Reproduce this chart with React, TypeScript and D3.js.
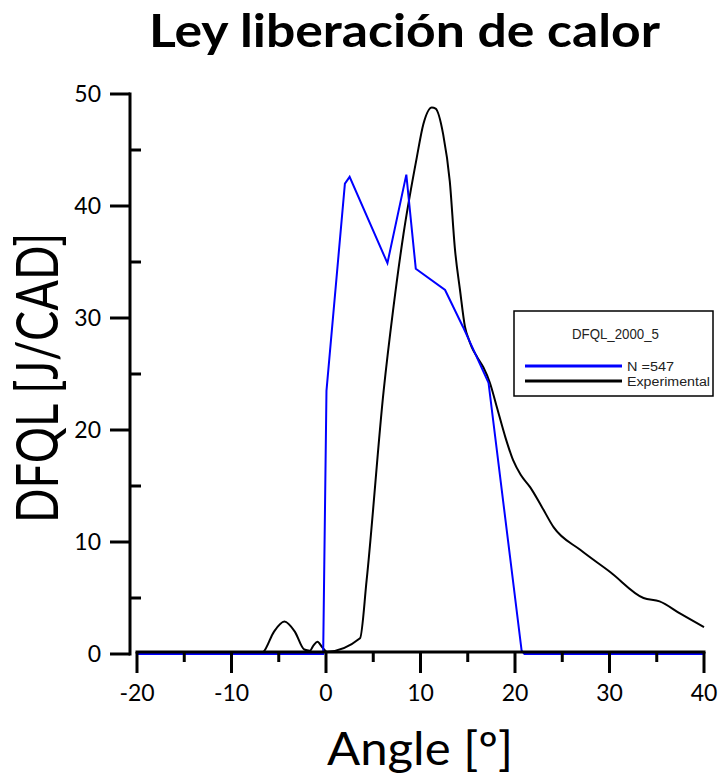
import React from "react";
import * as d3 from "d3";

const blueX = [-20, -0.3, 0.05, 2.0, 2.5, 6.5, 8.5, 9.5, 12.6, 14.5, 17.2, 20.7, 21.0, 40];
const blueY = [0, 0, 23.5, 42.0, 42.6, 34.9, 42.8, 34.4, 32.5, 29.2, 24.2, 0.3, 0, 0];

const expX = [-20, -7, -6.6, -5.5, -4.4, -3.3, -2.3, -1.7, -1.3, -0.9, -0.4, 0.1, 3.6, 4.3, 6.1, 7.1, 8.2, 9.6, 10.3, 11.2, 11.6, 12.4, 13.1, 13.65, 14.18, 14.71, 15.1, 15.42, 16.0, 16.65, 17.35, 18.06, 19.0, 19.8, 20.6, 21.6, 22.8, 24.1, 26.9, 30.1, 33.6, 35.3, 37.5, 40];
const expY = [0, 0, 0.2, 2.0, 2.9, 2.0, 0.4, 0.3, 0.8, 1.1, 0.6, 0.2, 1.4, 6.6, 23.5, 30.7, 37.5, 44.3, 47.3, 48.8, 48.7, 46.4, 42.2, 36.1, 32.5, 29.2, 28.1, 27.4, 26.5, 25.6, 24.2, 22.1, 19.3, 17.3, 16.0, 14.9, 13.2, 11.3, 9.3, 7.3, 5.0, 4.7, 3.6, 2.4];

const xMajor = [-20, -10, 0, 10, 20, 30, 40];
const xMinor = [-15, -5, 5, 15, 25, 35];
const yMajor = [0, 10, 20, 30, 40, 50];
const yMinor = [5, 15, 25, 35, 45];

const title = "Ley liberación de calor";
const xTitle = "Angle [º]";
const yTitle = "DFQL [J/CAD]";
const legendTitle = "DFQL_2000_5";
const seriesNames = ["N =547", "Experimental"];
const seriesColors = ["#0000ff", "#000000"];
const legendWidths = [47, 83];

export default function App() {
  const W = 723, H = 780;
  const x = d3.scaleLinear().domain([-20, 40]).range([137, 704]);
  const y = d3.scaleLinear().domain([0, 50]).range([654, 94]);
  const axisX = 130;
  const axisY = 652;
  const font = "Lato, 'Liberation Sans', sans-serif";
  const lfont = "'Liberation Sans', Arial, sans-serif";

  const blue = blueX.map((v, i) => [v, blueY[i]] as [number, number]);
  const exp = expX.map((v, i) => [v, expY[i]] as [number, number]);
  const lineLinear = d3.line<[number, number]>().x(d => x(d[0])).y(d => y(d[1]));
  const lineSmooth = d3.line<[number, number]>().x(d => x(d[0])).y(d => y(d[1])).curve(d3.curveMonotoneX);

  return (
    <svg width={W} height={H} style={{ position: "absolute", left: 0, top: 0, background: "#fff" }}>
      <text x={149} y={47} fontFamily={font} fontWeight="bold" fontSize={45} textLength={511} lengthAdjust="spacingAndGlyphs">{title}</text>

      {/* data */}
      <path d={lineSmooth(exp) || ""} fill="none" stroke={seriesColors[1]} strokeWidth={2} />
      <path d={lineLinear(blue) || ""} fill="none" stroke={seriesColors[0]} strokeWidth={2} />

      {/* y axis */}
      <line x1={axisX} x2={axisX} y1={y(50) - 1.5} y2={y(0) + 1.5} stroke="#000" strokeWidth={3} />
      {yMajor.map(v => (
        <g key={"ym" + v}>
          <line x1={axisX - 20} x2={axisX} y1={y(v)} y2={y(v)} stroke="#000" strokeWidth={3} />
          <text x={101} y={y(v) + 8} textAnchor="end" fontFamily={font} fontSize={23}>{v}</text>
        </g>
      ))}
      {yMinor.map(v => (
        <line key={"yn" + v} x1={axisX} x2={axisX + 11} y1={y(v)} y2={y(v)} stroke="#000" strokeWidth={3} />
      ))}

      {/* x axis */}
      <line x1={x(-20) - 1.5} x2={x(40) + 1.5} y1={axisY} y2={axisY} stroke="#000" strokeWidth={3} />
      {xMajor.map(v => (
        <g key={"xm" + v}>
          <line x1={x(v)} x2={x(v)} y1={axisY} y2={axisY + 21} stroke="#000" strokeWidth={3} />
          <text x={x(v)} y={701} textAnchor="middle" fontFamily={font} fontSize={23}>{v}</text>
        </g>
      ))}
      {xMinor.map(v => (
        <line key={"xn" + v} x1={x(v)} x2={x(v)} y1={axisY} y2={axisY + 10} stroke="#000" strokeWidth={3} />
      ))}

      <text x={327} y={765} fontFamily={font} fontSize={46} textLength={186} lengthAdjust="spacingAndGlyphs">{xTitle}</text>
      <text transform="translate(58,523) rotate(-90)" fontFamily={font} fontSize={58} textLength={290} lengthAdjust="spacingAndGlyphs">{yTitle}</text>

      {/* legend */}
      <rect x={514} y={311} width={199} height={85} fill="#fff" stroke="#000" strokeWidth={1.5} />
      <text x={572} y={339} fontFamily={lfont} fontSize={15} fill="#222" textLength={87} lengthAdjust="spacingAndGlyphs">{legendTitle}</text>
      {seriesNames.map((s, i) => (
        <g key={s}>
          <line x1={525} x2={622} y1={366 + i * 15} y2={366 + i * 15} stroke={seriesColors[i]} strokeWidth={3} />
          <text x={627} y={371 + i * 15} fontFamily={lfont} fontSize={12.5} fill="#222" textLength={legendWidths[i]} lengthAdjust="spacingAndGlyphs">{s}</text>
        </g>
      ))}
    </svg>
  );
}
